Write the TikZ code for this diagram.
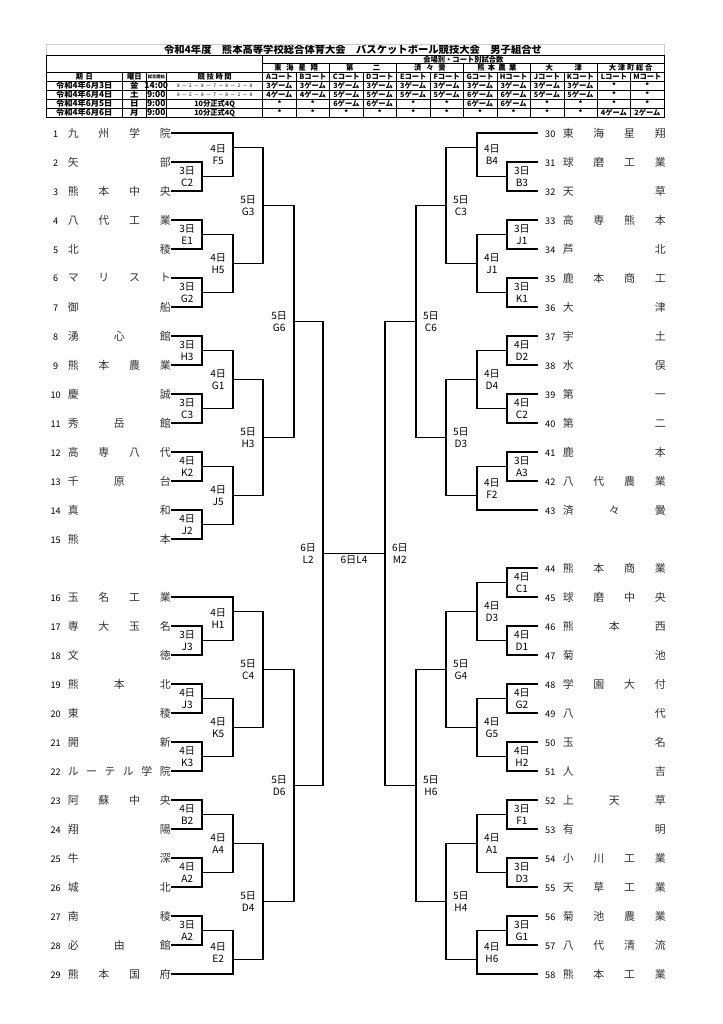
\documentclass[tikz,border=0pt]{standalone}
\usepackage{fontspec}
\setmainfont{Noto Sans CJK JP}
\usetikzlibrary{positioning,calc}

\makeatletter
% spread the letters of #2 evenly over a box of width #1
\newcommand\spread[2]{\makebox[#1][s]{\def\nmsep{}\edef\nmlist{#2}%
  \expandafter\@tfor\expandafter\nmchar\expandafter:\expandafter=\nmlist\do{\nmsep\nmchar\def\nmsep{\hfill}}}}
\makeatother
\newcommand\rw[1]{133+29*(#1)}
\newcommand\gm[1]{\if*#1\relax *\else #1ゲーム\fi}
% one game: name, x of the vertical, upper entry, lower entry, row of the winner, label
\newcommand\game[6]{%
  \draw[bracket] (#3) -- (#3 -| #2,0) -- node[lab] {#6} (#4 -| #2,0) -- (#4);
  \coordinate (#1) at (#2,{\rw{#5}});}

\begin{document}
\begin{tikzpicture}[x=0.8233pt, y=-0.8233pt,
    bracket/.style={line width=1.6pt},
    labtext/.style={font=\fontsize{8.3}{10}\selectfont, align=center, inner sep=1pt},
    lteam/.style={anchor=east, inner sep=0pt, font=\fontsize{9}{10}\selectfont, text=black!80},
    rteam/.style={anchor=west, inner sep=0pt, font=\fontsize{9}{10}\selectfont, text=black!80},
    tline/.style={line width=0.8pt},
    thinline/.style={line width=0.4pt},
    hd/.style={inner sep=0pt, font=\fontsize{6}{7}\selectfont\bfseries},
    cell/.style={inner sep=0pt, font=\fontsize{6}{7}\selectfont\bfseries}]
\fill[white] (0,0) rectangle (723,1024);

% title and table of courts
\node[inner sep=0pt, font=\fontsize{8.5}{10}\selectfont\bfseries] (title) at (353,49.5)
  {令和4年度　熊本高等学校総合体育大会　バスケットボール競技大会　男子組合せ};
\draw[gray!40, line width=0.4pt] (46,55) -- (46,44) -- (664.1,44) -- (664.1,55);
\draw[tline] (46,55) rectangle (664.1,117.3);
\foreach \y in {72.3,81} \draw[tline] (46,\y) -- (664.1,\y);
\foreach \y in {90,99.1,108.2} \draw[thinline] (46,\y) -- (664.1,\y);
\draw[thinline] (262.7,63.7) -- (664.1,63.7);
\foreach \x in {122.7,146,166.7} \draw[thinline] (\x,72.3) -- (\x,117.3);
\draw[tline] (262.7,55) -- (262.7,117.3);
\foreach \k in {1,...,5} \draw[tline] ({262.7+66.9*\k},63.7) -- ({262.7+66.9*\k},117.3);
\foreach \k in {0,...,5} \draw[thinline] ({296.15+66.9*\k},72.3) -- ({296.15+66.9*\k},117.3);

\node[hd] (venues) at (463.4,59.4) {会場別・コート別試合数};
\foreach \v/\w [count=\k] in {東海星翔/36pt, 第二/28pt, 済々黌/26pt, 熊本農業/32pt, 大津/30pt, 大津町総合/36pt}
  \node[hd] (venue\k) at ({262.7+66.9*\k-33.45},68) {\spread{\w}{\v}};
\foreach \ct [count=\j] in {A,B,C,D,E,F,G,H,J,K,L,M}
  \node[hd] (court\ct) at ({262.7+33.45*\j-16.725},76.7) {\ct コート};
\node[hd] (hdate) at (84.3,76.7) {\spread{14pt}{期日}};
\node[hd] (hday) at (134.3,76.7) {\spread{12pt}{曜日}};
\node[hd, font=\fontsize{3.5}{4}\selectfont\bfseries] (hstart) at (156.3,76.7) {試合開始};
\node[hd] (htime) at (214.7,76.7) {\spread{28pt}{競技時間}};

\foreach \d/\w/\t/\h [count=\r] in {令和4年6月3日/金/14:00/a, 令和4年6月4日/土/9:00/a,
    令和4年6月5日/日/9:00/b, 令和4年6月6日/月/9:00/b}{
  \node[cell, font=\fontsize{6.8}{8}\selectfont\bfseries] (date\r) at (84.3,{85.5+9.08*(\r-1)}) {\d};
  \node[cell, font=\fontsize{7}{8}\selectfont\bfseries] (day\r) at (134.3,{85.5+9.08*(\r-1)}) {\w};
  \node[cell, font=\fontsize{7}{8}\selectfont\bfseries] (start\r) at (156.3,{85.5+9.08*(\r-1)}) {\t};
  \if a\h
    \node[cell, font=\fontsize{4}{5}\selectfont] (time\r) at (214.7,{85.5+9.08*(\r-1)}) {\spread{62pt}{8－2－8－7－8－2－8}};
  \else
    \node[cell] (time\r) at (214.7,{85.5+9.08*(\r-1)}) {10分正式4Q};
  \fi
}
\foreach \row [count=\r] in {{3,3,3,3,3,3,3,3,3,3,*,*},{4,4,5,5,5,5,6,6,5,5,*,*},
    {*,*,6,6,*,*,6,6,*,*,*,*},{*,*,*,*,*,*,*,*,*,*,4,2}}
  \foreach \g [count=\j] in \row
    \node[cell] (c\r-\j) at ({262.7+33.45*\j-16.725},{85.5+9.08*(\r-1)}) {\gm{\g}};

% teams
\foreach \n/\nm in {1/九州学院, 2/矢部, 3/熊本中央, 4/八代工業, 5/北稜, 6/マリスト, 7/御船, 8/湧心館,
    9/熊本農業, 10/慶誠, 11/秀岳館, 12/高専八代, 13/千原台, 14/真和, 15/熊本}
  \node[lteam] (t\n) at (171,{\rw{\n-1}}) {\makebox[13.2pt]{\fontsize{7.5}{9}\selectfont\color{black}\n}\hspace{3.3pt}\spread{84.8pt}{\nm}};
\foreach \n/\nm in {16/玉名工業, 17/専大玉名, 18/文徳, 19/熊本北, 20/東稜, 21/開新, 22/ルーテル学院,
    23/阿蘇中央, 24/翔陽, 25/牛深, 26/城北, 27/南稜, 28/必由館, 29/熊本国府}
  \node[lteam] (t\n) at (171,{\rw{\n}}) {\makebox[13.2pt]{\fontsize{7.5}{9}\selectfont\color{black}\n}\hspace{3.3pt}\spread{84.8pt}{\nm}};
\foreach \n/\nm in {30/東海星翔, 31/球磨工業, 32/天草, 33/高専熊本, 34/芦北, 35/鹿本商工, 36/大津,
    37/宇土, 38/水俣, 39/第一, 40/第二, 41/鹿本, 42/八代農業, 43/済々黌}
  \node[rteam] (t\n) at (538,{\rw{\n-30}}) {\hspace{3.3pt}\makebox[13.2pt]{\fontsize{7.5}{9}\selectfont\color{black}\n}\hspace{3.7pt}\spread{84.8pt}{\nm}};
\foreach \n/\nm in {44/熊本商業, 45/球磨中央, 46/熊本西, 47/菊池, 48/学園大付, 49/八代, 50/玉名,
    51/人吉, 52/上天草, 53/有明, 54/小川工業, 55/天草工業, 56/菊池農業, 57/八代清流, 58/熊本工業}
  \node[rteam] (t\n) at (538,{\rw{\n-29}}) {\hspace{3.3pt}\makebox[13.2pt]{\fontsize{7.5}{9}\selectfont\color{black}\n}\hspace{3.7pt}\spread{84.8pt}{\nm}};

% left half
\begin{scope}[lab/.style={labtext, left, inner xsep=5pt}]
\game{g3C2}{202}{t2.east}{t3.east}{1.5}{3日\\C2}
\game{g3E1}{202}{t4.east}{t5.east}{3.5}{3日\\E1}
\game{g3G2}{202}{t6.east}{t7.east}{5.5}{3日\\G2}
\game{g3H3}{202}{t8.east}{t9.east}{7.5}{3日\\H3}
\game{g3C3}{202}{t10.east}{t11.east}{9.5}{3日\\C3}
\game{g4K2}{202}{t12.east}{t13.east}{11.5}{4日\\K2}
\game{g4J2}{202}{t14.east}{t15.east}{13.5}{4日\\J2}
\game{g3J3}{202}{t17.east}{t18.east}{17.5}{3日\\J3}
\game{g4J3}{202}{t19.east}{t20.east}{19.5}{4日\\J3}
\game{g4K3}{202}{t21.east}{t22.east}{21.5}{4日\\K3}
\game{g4B2}{202}{t23.east}{t24.east}{23.5}{4日\\B2}
\game{g4A2}{202}{t25.east}{t26.east}{25.5}{4日\\A2}
\game{g3A2}{202}{t27.east}{t28.east}{27.5}{3日\\A2}
\game{g4F5}{233}{t1.east}{g3C2}{0.5}{4日\\F5}
\game{g4H5}{233}{g3E1}{g3G2}{4.5}{4日\\H5}
\game{g4G1}{233}{g3H3}{g3C3}{8.5}{4日\\G1}
\game{g4J5}{233}{g4K2}{g4J2}{12.5}{4日\\J5}
\game{g4H1}{233}{t16.east}{g3J3}{16.5}{4日\\H1}
\game{g4K5}{233}{g4J3}{g4K3}{20.5}{4日\\K5}
\game{g4A4}{233}{g4B2}{g4A2}{24.5}{4日\\A4}
\game{g4E2}{233}{g3A2}{t29.east}{28.5}{4日\\E2}
\game{g5G3}{263}{g4F5}{g4H5}{2.5}{5日\\G3}
\game{g5H3}{263}{g4G1}{g4J5}{10.5}{5日\\H3}
\game{g5C4}{263}{g4H1}{g4K5}{18.5}{5日\\C4}
\game{g5D4}{263}{g4A4}{g4E2}{26.5}{5日\\D4}
\game{g5G6}{294}{g5G3}{g5H3}{6.5}{5日\\G6}
\game{g5D6}{294}{g5C4}{g5D4}{22.5}{5日\\D6}
\game{g6L2}{323}{g5G6}{g5D6}{14.5}{6日\\L2}
\end{scope}

% right half
\begin{scope}[lab/.style={labtext, right, inner xsep=5pt}]
\game{g3B3}{507}{t31.west}{t32.west}{1.5}{3日\\B3}
\game{g3J1}{507}{t33.west}{t34.west}{3.5}{3日\\J1}
\game{g3K1}{507}{t35.west}{t36.west}{5.5}{3日\\K1}
\game{g4D2}{507}{t37.west}{t38.west}{7.5}{4日\\D2}
\game{g4C2}{507}{t39.west}{t40.west}{9.5}{4日\\C2}
\game{g3A3}{507}{t41.west}{t42.west}{11.5}{3日\\A3}
\game{g4C1}{507}{t44.west}{t45.west}{15.5}{4日\\C1}
\game{g4D1}{507}{t46.west}{t47.west}{17.5}{4日\\D1}
\game{g4G2}{507}{t48.west}{t49.west}{19.5}{4日\\G2}
\game{g4H2}{507}{t50.west}{t51.west}{21.5}{4日\\H2}
\game{g3F1}{507}{t52.west}{t53.west}{23.5}{3日\\F1}
\game{g3D3}{507}{t54.west}{t55.west}{25.5}{3日\\D3}
\game{g3G1}{507}{t56.west}{t57.west}{27.5}{3日\\G1}
\game{g4B4}{477}{t30.west}{g3B3}{0.5}{4日\\B4}
\game{g4J1}{477}{g3J1}{g3K1}{4.5}{4日\\J1}
\game{g4D4}{477}{g4D2}{g4C2}{8.5}{4日\\D4}
\game{g4F2}{477}{g3A3}{t43.west}{12.5}{4日\\F2}
\game{g4D3}{477}{g4C1}{g4D1}{16.5}{4日\\D3}
\game{g4G5}{477}{g4G2}{g4H2}{20.5}{4日\\G5}
\game{g4A1}{477}{g3F1}{g3D3}{24.5}{4日\\A1}
\game{g4H6}{477}{g3G1}{t58.west}{28.5}{4日\\H6}
\game{g5C3}{446}{g4B4}{g4J1}{2.5}{5日\\C3}
\game{g5D3}{446}{g4D4}{g4F2}{10.5}{5日\\D3}
\game{g5G4}{446}{g4D3}{g4G5}{18.5}{5日\\G4}
\game{g5H4}{446}{g4A1}{g4H6}{26.5}{5日\\H4}
\game{g5C6}{416}{g5C3}{g5D3}{6.5}{5日\\C6}
\game{g5H6}{416}{g5G4}{g5H4}{22.5}{5日\\H6}
\game{g6M2}{385}{g5C6}{g5H6}{14.5}{6日\\M2}
\end{scope}

% final
\draw[bracket] (g6L2) -- node[labtext, below] (final) {6日L4} (g6M2);
\end{tikzpicture}
\end{document}
